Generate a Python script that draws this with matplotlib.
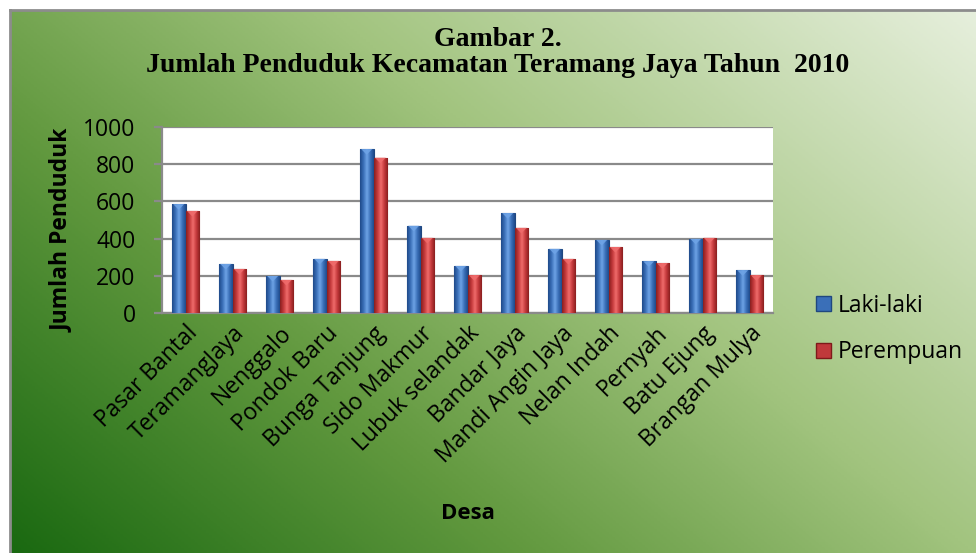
import numpy as np
import matplotlib
matplotlib.use("Agg")
import matplotlib.pyplot as plt
from matplotlib.colors import LinearSegmentedColormap
from matplotlib.patches import Patch, Polygon
from matplotlib.lines import Line2D

categories = ["Pasar Bantal", "TeramangJaya", "Nenggalo", "Pondok Baru", "Bunga Tanjung",
              "Sido Makmur", "Lubuk selandak", "Bandar Jaya", "Mandi Angin Jaya",
              "Nelan Indah", "Pernyah", "Batu Ejung", "Brangan Mulya"]
laki = [585, 264, 199, 291, 881, 469, 253, 537, 345, 393, 278, 399, 230]
perempuan = [549, 237, 178, 280, 835, 404, 203, 458, 291, 355, 268, 404, 203]
yticks = [0, 200, 400, 600, 800, 1000]
series_names = ["Laki-laki", "Perempuan"]

W, H = 976, 553
fig = plt.figure(figsize=(W / 100, H / 100), dpi=100)
fig.patch.set_facecolor("white")

# gradient background
bg = fig.add_axes([11 / W, 0, 1 - 11 / W, 1 - 11 / H], zorder=-10)
bg.set_axis_off()
nx, ny = 300, 200
u = np.linspace(0, 1, nx)[None, :]
v = np.linspace(1, 0, ny)[:, None]
t = 0.6 * u + 0.4 * v
cmap = LinearSegmentedColormap.from_list(
    "g", [(0, "#1a6911"), (0.32, "#62993f"), (0.6, "#a2c47f"), (1.0, "#e6efdc")])
bg.imshow(t, cmap=cmap, aspect="auto", extent=[0, 1, 0, 1], vmin=0, vmax=1)
fig.add_artist(Line2D([10 / W, 10 / W], [0, 1 - 10 / H], transform=fig.transFigure, color="#8c8c8c", lw=2))
fig.add_artist(Line2D([10 / W, 1], [1 - 10 / H, 1 - 10 / H], transform=fig.transFigure, color="#8c8c8c", lw=2))

left, right, top, bottom = 162, 773, 127, 313
ax = fig.add_axes([left / W, 1 - bottom / H, (right - left) / W, (bottom - top) / H])
ax.set_facecolor("white")

x = np.arange(len(categories))
bw = 0.29

def shade(bars, light, mid, dark):
    cm = LinearSegmentedColormap.from_list("b", [dark, mid, light, mid, dark])
    for b in bars:
        x0, y0 = b.get_x(), b.get_y()
        w, h = b.get_width(), b.get_height()
        im = ax.imshow(np.linspace(0, 1, 50)[None, :], cmap=cm, aspect="auto",
                       extent=[x0, x0 + w, y0, y0 + h], zorder=3, interpolation="bilinear")
        im.set_clip_path(b)
        tri = Polygon([[x0 + 0.1 * w, y0 + h], [x0 + 0.9 * w, y0 + h], [x0 + 0.5 * w, y0 + h - 30]],
                      closed=True, facecolor=light, edgecolor="none", alpha=0.9, zorder=4)
        ax.add_patch(tri)

b1 = ax.bar(x - bw / 2, laki, bw, color="#3a6fb8", edgecolor="#1f477f", lw=0.8, zorder=2)
b2 = ax.bar(x + bw / 2, perempuan, bw, color="#c0393b", edgecolor="#7e1a1a", lw=0.8, zorder=2)
shade(b1, "#6ea3e6", "#3a6fb8", "#1f4a8a")
shade(b2, "#ef6b6b", "#c4393b", "#8a1f1f")

ax.set_xlim(-0.5, len(categories) - 0.5)
ax.set_ylim(0, 1000)
ax.set_yticks(yticks)
ax.grid(axis="y", color="#8a8a8a", lw=1.6, zorder=1)
ax.set_axisbelow(True)
for s in ["top", "right"]:
    ax.spines[s].set_visible(False)
for s in ["left", "bottom"]:
    ax.spines[s].set_color("#8a8a8a")
    ax.spines[s].set_linewidth(1.6)

font = "Open Sans"
ax.set_xticks(x)
ax.set_xticklabels(categories, rotation=45, ha="right", rotation_mode="anchor",
                   fontsize=16.5, family=font)
ax.tick_params(axis="x", length=0, pad=6)
ax.tick_params(axis="y", length=6, color="#8a8a8a", width=1.6, pad=13, labelsize=16.5)
for lab in ax.get_yticklabels():
    lab.set_family(font)
ax.set_xlabel("Desa", fontsize=16, fontweight="bold", family=font)
ax.xaxis.set_label_coords((468 - left) / (right - left), -(503 - bottom) / (bottom - top))
ax.set_ylabel("Jumlah Penduduk", fontsize=16.5, fontweight="bold", family=font)
ax.yaxis.set_label_coords(-(162 - 74) / (right - left), (313 - 230) / (bottom - top))

fig.text(498 / W, 1 - 40 / H, "Gambar 2.", ha="center", va="center",
         fontsize=20, fontweight="bold", family="Liberation Serif")
fig.text(498 / W, 1 - 65 / H, "Jumlah Penduduk Kecamatan Teramang Jaya Tahun  2010", ha="center",
         va="center", fontsize=20, fontweight="bold", family="Liberation Serif")

handles = [Patch(facecolor="#3a6fb8", edgecolor="#1f477f"),
           Patch(facecolor="#c0393b", edgecolor="#7e1a1a")]
fig.legend(handles, series_names, loc="center left", bbox_to_anchor=(795 / W, 1 - 329 / H),
           frameon=False, prop={"family": font, "size": 16.5}, handlelength=0.65, handleheight=0.65,
           handletextpad=0.3, labelspacing=1.0)

fig.savefig("out.png", dpi=100)
